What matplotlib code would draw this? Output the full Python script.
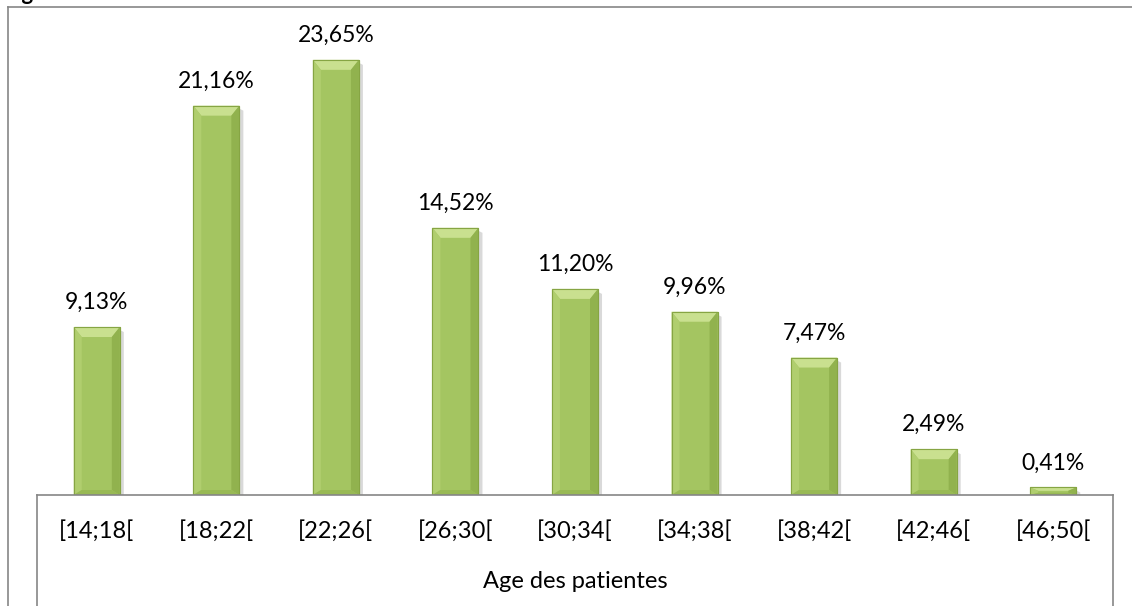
import matplotlib
matplotlib.use("Agg")
import matplotlib.pyplot as plt
from matplotlib.patches import Polygon
from matplotlib.lines import Line2D

categories = ["[14;18[", "[18;22[", "[22;26[", "[26;30[", "[30;34[",
              "[34;38[", "[38;42[", "[42;46[", "[46;50["]
values = [9.13, 21.16, 23.65, 14.52, 11.20, 9.96, 7.47, 2.49, 0.41]
labels = ["9,13%", "21,16%", "23,65%", "14,52%", "11,20%", "9,96%", "7,47%", "2,49%", "0,41%"]
axis_title = "Age des patientes"

W, H = 1132, 606
fig = plt.figure(figsize=(W / 100, H / 100), dpi=100)
plt.rcParams['font.family'] = ['Lato', 'DejaVu Sans']

x0, x1 = 37, 1113
ybase, ytop = 495, 35
ax = fig.add_axes([x0 / W, 1 - ybase / H, (x1 - x0) / W, (ybase - ytop) / H])
ax.set_xlim(-0.5, len(categories) - 0.5)
ax.set_ylim(0, 25)
ax.axis('off')

xs = list(range(len(categories)))
bw = 0.385
bars = ax.bar(xs, values, width=bw, color="#A4C561", edgecolor="#86A543", linewidth=0.8, zorder=3)

px_x = len(categories) / (x1 - x0)
px_y = 25 / (ybase - ytop)
for b in bars:
    bx, by, bwid, bh = b.get_x(), b.get_y(), b.get_width(), b.get_height()
    dx = 8 * px_x
    dy = min(10 * px_y, bh * 0.45)
    dyb = min(5 * px_y, bh * 0.3)
    xl, xr, yt, yb = bx, bx + bwid, by + bh, by
    ax.add_patch(Polygon([(xr, yt - 3 * px_y), (xr + 4 * px_x, yt - 5 * px_y), (xr + 4 * px_x, yb), (xr, yb)],
                         closed=True, facecolor="#D9D9D9", edgecolor="none", zorder=2))
    ax.add_patch(Polygon([(xl, yt), (xr, yt), (xr - dx, yt - dy), (xl + dx, yt - dy)],
                         closed=True, facecolor="#C9E08F", edgecolor="none", zorder=4))
    ax.add_patch(Polygon([(xl, yt), (xl + dx, yt - dy), (xl + dx, yb + dyb), (xl, yb)],
                         closed=True, facecolor="#B0CE6E", edgecolor="none", zorder=4))
    ax.add_patch(Polygon([(xr, yt), (xr - dx, yt - dy), (xr - dx, yb + dyb), (xr, yb)],
                         closed=True, facecolor="#91B24E", edgecolor="none", zorder=4))
    ax.add_patch(Polygon([(xl, yb), (xl + dx, yb + dyb), (xr - dx, yb + dyb), (xr, yb)],
                         closed=True, facecolor="#98B954", edgecolor="none", zorder=4))
    ax.add_patch(Polygon([(xl, yb), (xr, yb), (xr, yt), (xl, yt)], closed=True,
                         facecolor="none", edgecolor="#86A543", linewidth=0.8, zorder=5))

for x, v, lab in zip(xs, values, labels):
    ax.annotate(lab, (x, v), xytext=(0, 10), textcoords="offset points",
                ha="center", va="bottom", fontsize=16.5, color="#000000")

gray = "#868686"
fig.add_artist(Line2D([x0 / W, x1 / W], [1 - ybase / H] * 2, color=gray, lw=1.2))
fig.add_artist(Line2D([x0 / W] * 2, [1 - ybase / H, 0], color=gray, lw=1.2))
fig.add_artist(Line2D([x1 / W] * 2, [1 - ybase / H, 0], color=gray, lw=1.2))
for x, c in zip(xs, categories):
    px = x0 + (x + 0.5) * (x1 - x0) / len(categories)
    fig.text(px / W, 1 - 531 / H, c, ha="center", va="center", fontsize=17)
fig.text(((x0 + x1) / 2) / W, 1 - 581 / H, axis_title, ha="center", va="center", fontsize=17)

fig.add_artist(Line2D([8 / W, 1.0], [1 - 7 / H] * 2, color=gray, lw=1.2))
fig.add_artist(Line2D([8 / W] * 2, [1 - 7 / H, 0], color=gray, lw=1.2))
fig.text(6 / W, 1.0, "Age", ha="left", va="baseline", fontsize=16, fontweight="bold")

fig.savefig("out.png", dpi=100)
